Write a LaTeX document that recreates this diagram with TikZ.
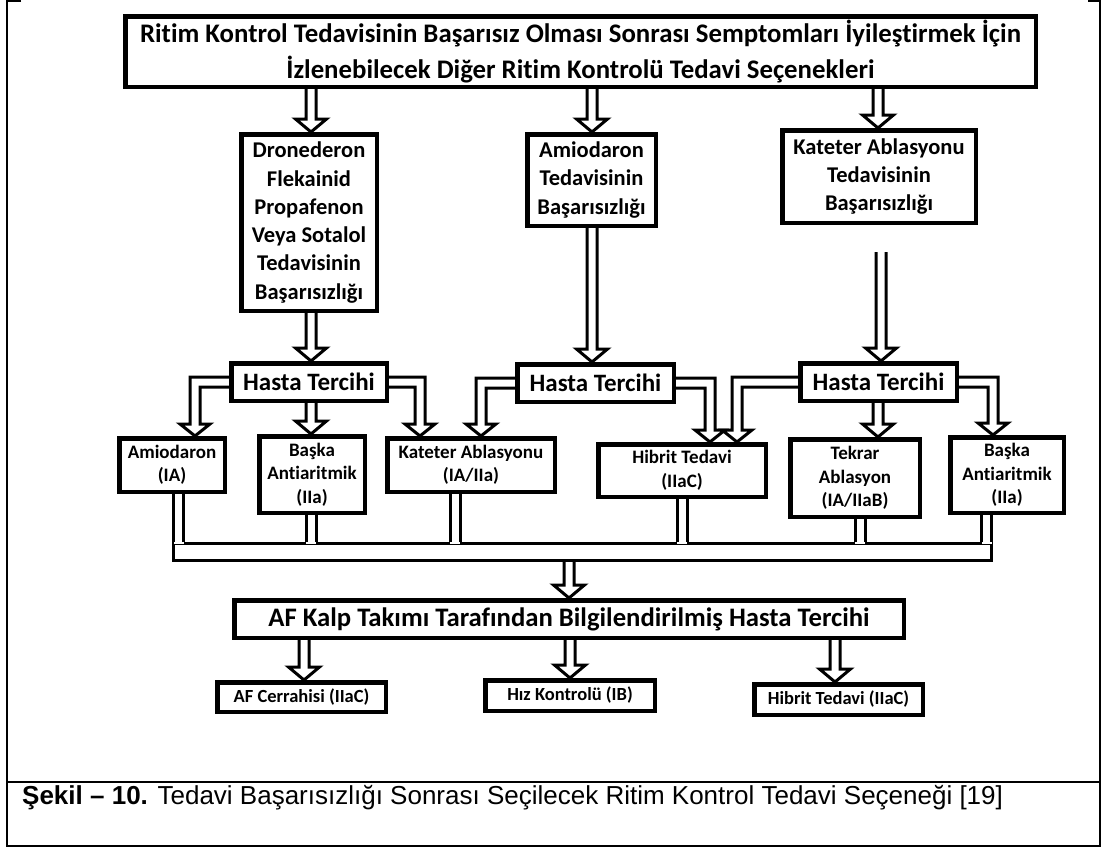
\documentclass[tikz,border=0pt]{standalone}
\usepackage{fontspec}
\setmainfont{Carlito}[Ligatures=NoCommon]
\newfontfamily\capfont{Liberation Sans}
\usetikzlibrary{calc}

% hollow block arrow straight down: start, tip
\newcommand{\hdown}[2]{%
  \draw[harrow] let \p1=#1, \p2=#2 in
    (\x1-5pt,\y1) -- (\x1-5pt,\y2+13pt) -- (\x1-15.5pt,\y2+13pt) -- (\x1,\y2)
    -- (\x1+15.5pt,\y2+13pt) -- (\x1+5pt,\y2+13pt) -- (\x1+5pt,\y1);}

% hollow block arrow with one bend: start, bend, tip
\newcommand{\helbow}[3]{%
  \draw[harrow] let \p1=#1, \p2=#2, \p3=#3,
    \n1={\x2+5*((\x2>\x1)*2-1)}, \n2={\x2-5*((\x2>\x1)*2-1)},
    \n3={\x2+15*((\x2>\x1)*2-1)}, \n4={\x2-15*((\x2>\x1)*2-1)} in
    (\x1,\y1+5pt) -- (\n1,\y1+5pt) -- (\n1,\y3+12pt) -- (\n3,\y3+12pt)
    -- (\x2,\y3) -- (\n4,\y3+12pt) -- (\n2,\y3+12pt) -- (\n2,\y1-5pt)
    -- (\x1,\y1-5pt);}

% hollow stem from a box into the bus
\newcommand{\hstem}[2]{%
  \fill[white] let \p1=#1, \p2=#2 in (\x1-5pt,\y1-2.3pt) rectangle (\x1+5pt,\y2-1.6pt);
  \draw[harrow] let \p1=#1, \p2=#2 in (\x1-5pt,\y1) -- (\x1-5pt,\y2) (\x1+5pt,\y1) -- (\x1+5pt,\y2);}

\begin{document}
\begin{tikzpicture}[x=1pt,y=-1pt,
    box/.style={draw, line width=4.5pt, fill=white, inner sep=0pt, align=center},
    harrow/.style={line width=3pt},
    frame/.style={line width=2pt},
    big/.style={font=\bfseries\fontsize{26.8}{35.5}\selectfont},
    pref/.style={font=\bfseries\fontsize{25}{30}\selectfont},
    mid/.style={font=\bfseries\fontsize{22.5}{28.3}\selectfont},
    small/.style={font=\bfseries\fontsize{19}{23.5}\selectfont},
    last/.style={font=\bfseries\fontsize{18.5}{22}\selectfont}]
   \useasboundingbox (0,0) rectangle (1103,847);

   % frame
   \draw[frame] (21,1) -- (7,1) -- (7,846) -- (1100,846) -- (1100,1) -- (1088,1);
   \draw[frame] (7,782) -- (1100,782);

   \node[box, big, minimum width=910.5pt, minimum height=70.5pt] (T) at (580.5,51.5)
     {Ritim Kontrol Tedavisinin Başarısız Olması Sonrası Semptomları İyileştirmek İçin\\İzlenebilecek Diğer Ritim Kontrolü Tedavi Seçenekleri};

   \node[box, mid, minimum width=135.5pt, minimum height=176.5pt] (D) at (309,222.5)
     {Dronederon\\Flekainid\\Propafenon\\Veya Sotalol\\Tedavisinin\\Başarısızlığı};
   \node[box, mid, minimum width=128.5pt, minimum height=91.5pt] (Am) at (591.5,180)
     {Amiodaron\\Tedavisinin\\Başarısızlığı};
   \node[box, mid, minimum width=193.5pt, minimum height=92.5pt] (K) at (879,176.5)
     {Kateter Ablasyonu\\Tedavisinin\\Başarısızlığı};
   \coordinate (kgap) at (881,252);

   \node[box, pref, minimum width=155.5pt, minimum height=37.5pt] (HT1) at (309,382) {Hasta Tercihi};
   \node[box, pref, minimum width=156.5pt, minimum height=37.5pt] (HT2) at (595.5,383) {Hasta Tercihi};
   \node[box, pref, minimum width=156.5pt, minimum height=37.5pt] (HT3) at (878.5,382) {Hasta Tercihi};

   \node[box, small, minimum width=105.5pt, minimum height=53.5pt] (A1) at (172,465) {Amiodaron\\(IA)};
   \node[box, small, minimum width=105.5pt, minimum height=76.5pt] (A2) at (312,474.5) {Başka\\Antiaritmik\\(IIa)};
   \node[box, small, minimum width=167.5pt, minimum height=53.5pt] (A3) at (471,465) {Kateter Ablasyonu\\(IA/IIa)};
   \node[box, small, minimum width=167.5pt, minimum height=52.5pt] (A4) at (682,470.5) {Hibrit Tedavi\\(IIaC)};
   \node[box, small, minimum width=129.5pt, minimum height=77.5pt] (A5) at (855,478) {Tekrar\\Ablasyon\\(IA/IIaB)};
   \node[box, small, minimum width=113.5pt, minimum height=75.5pt] (A6) at (1007,475) {Başka\\Antiaritmik\\(IIa)};

   \node[draw, line width=3pt, fill=white, minimum width=818pt, minimum height=17pt, inner sep=0pt] (bus) at (582.5,552) {};

   \node[box, font=\bfseries\fontsize{26.7}{30}\selectfont, minimum width=669.5pt, minimum height=37.5pt] (AF) at (569,619)
     {AF Kalp Takımı Tarafından Bilgilendirilmiş Hasta Tercihi};

   \node[box, last, minimum width=168.5pt, minimum height=29.5pt] (B1) at (301.5,697) {AF Cerrahisi (IIaC)};
   \node[box, last, minimum width=169.5pt, minimum height=30.5pt] (B2) at (570,695.5) {Hız Kontrolü (IB)};
   \node[box, last, minimum width=168.5pt, minimum height=30.5pt] (B3) at (838.5,699.5) {Hibrit Tedavi (IIaC)};

   \node[anchor=base west, inner sep=0pt, font=\capfont\fontsize{26}{29}\selectfont] (cap) at (22,804)
     {\textbf{Şekil – 10.} Tedavi Başarısızlığı Sonrası Seçilecek Ritim Kontrol Tedavi Seçeneği [19]};

   \hdown{(T.south -| 311,0)}{(D.north -| 311,0)}
   \hdown{(T.south -| 592,0)}{(Am.north -| 592,0)}
   \hdown{(T.south -| 878,0)}{(K.north -| 878,0)}

   \hdown{(D.south -| 311,0)}{(HT1.north -| 311,0)}
   \hdown{(Am.south -| 592,0)}{(HT2.north -| 592,0)}
   \hdown{(kgap)}{(HT3.north -| kgap)}

   \helbow{(HT1.west)}{(HT1.west -| 195,0)}{(A1.north -| 195,0)}
   \hdown{(HT1.south -| 311,0)}{(A2.north -| 311,0)}
   \helbow{(HT1.east)}{(HT1.east -| 420,0)}{(A3.north -| 420,0)}
   \helbow{(HT2.west)}{(HT2.west -| 481,0)}{(A3.north -| 481,0)}
   \helbow{(HT2.east)}{(HT2.east -| 710,0)}{(A4.north -| 710,0)}
   \helbow{(HT3.west)}{(HT3.west -| 737,0)}{(A4.north -| 737,0)}
   \hdown{(HT3.south -| 878,0)}{(A5.north -| 878,0)}
   \helbow{(HT3.east)}{(HT3.east -| 993,0)}{(A6.north -| 993,0)}

   \hstem{(A1.south -| 178.5,0)}{(bus.north -| 178.5,0)}
   \hstem{(A2.south -| 311,0)}{(bus.north -| 311,0)}
   \hstem{(A3.south -| 455,0)}{(bus.north -| 455,0)}
   \hstem{(A4.south -| 682,0)}{(bus.north -| 682,0)}
   \hstem{(A5.south -| 860,0)}{(bus.north -| 860,0)}
   \hstem{(A6.south -| 986.5,0)}{(bus.north -| 986.5,0)}

   \hdown{(bus.south -| 569,0)}{(AF.north -| 569,0)}
   \hdown{(AF.south -| 304,0)}{(B1.north -| 304,0)}
   \hdown{(AF.south -| 570,0)}{(B2.north -| 570,0)}
   \hdown{(AF.south -| 835,0)}{(B3.north -| 835,0)}
\end{tikzpicture}
\end{document}
